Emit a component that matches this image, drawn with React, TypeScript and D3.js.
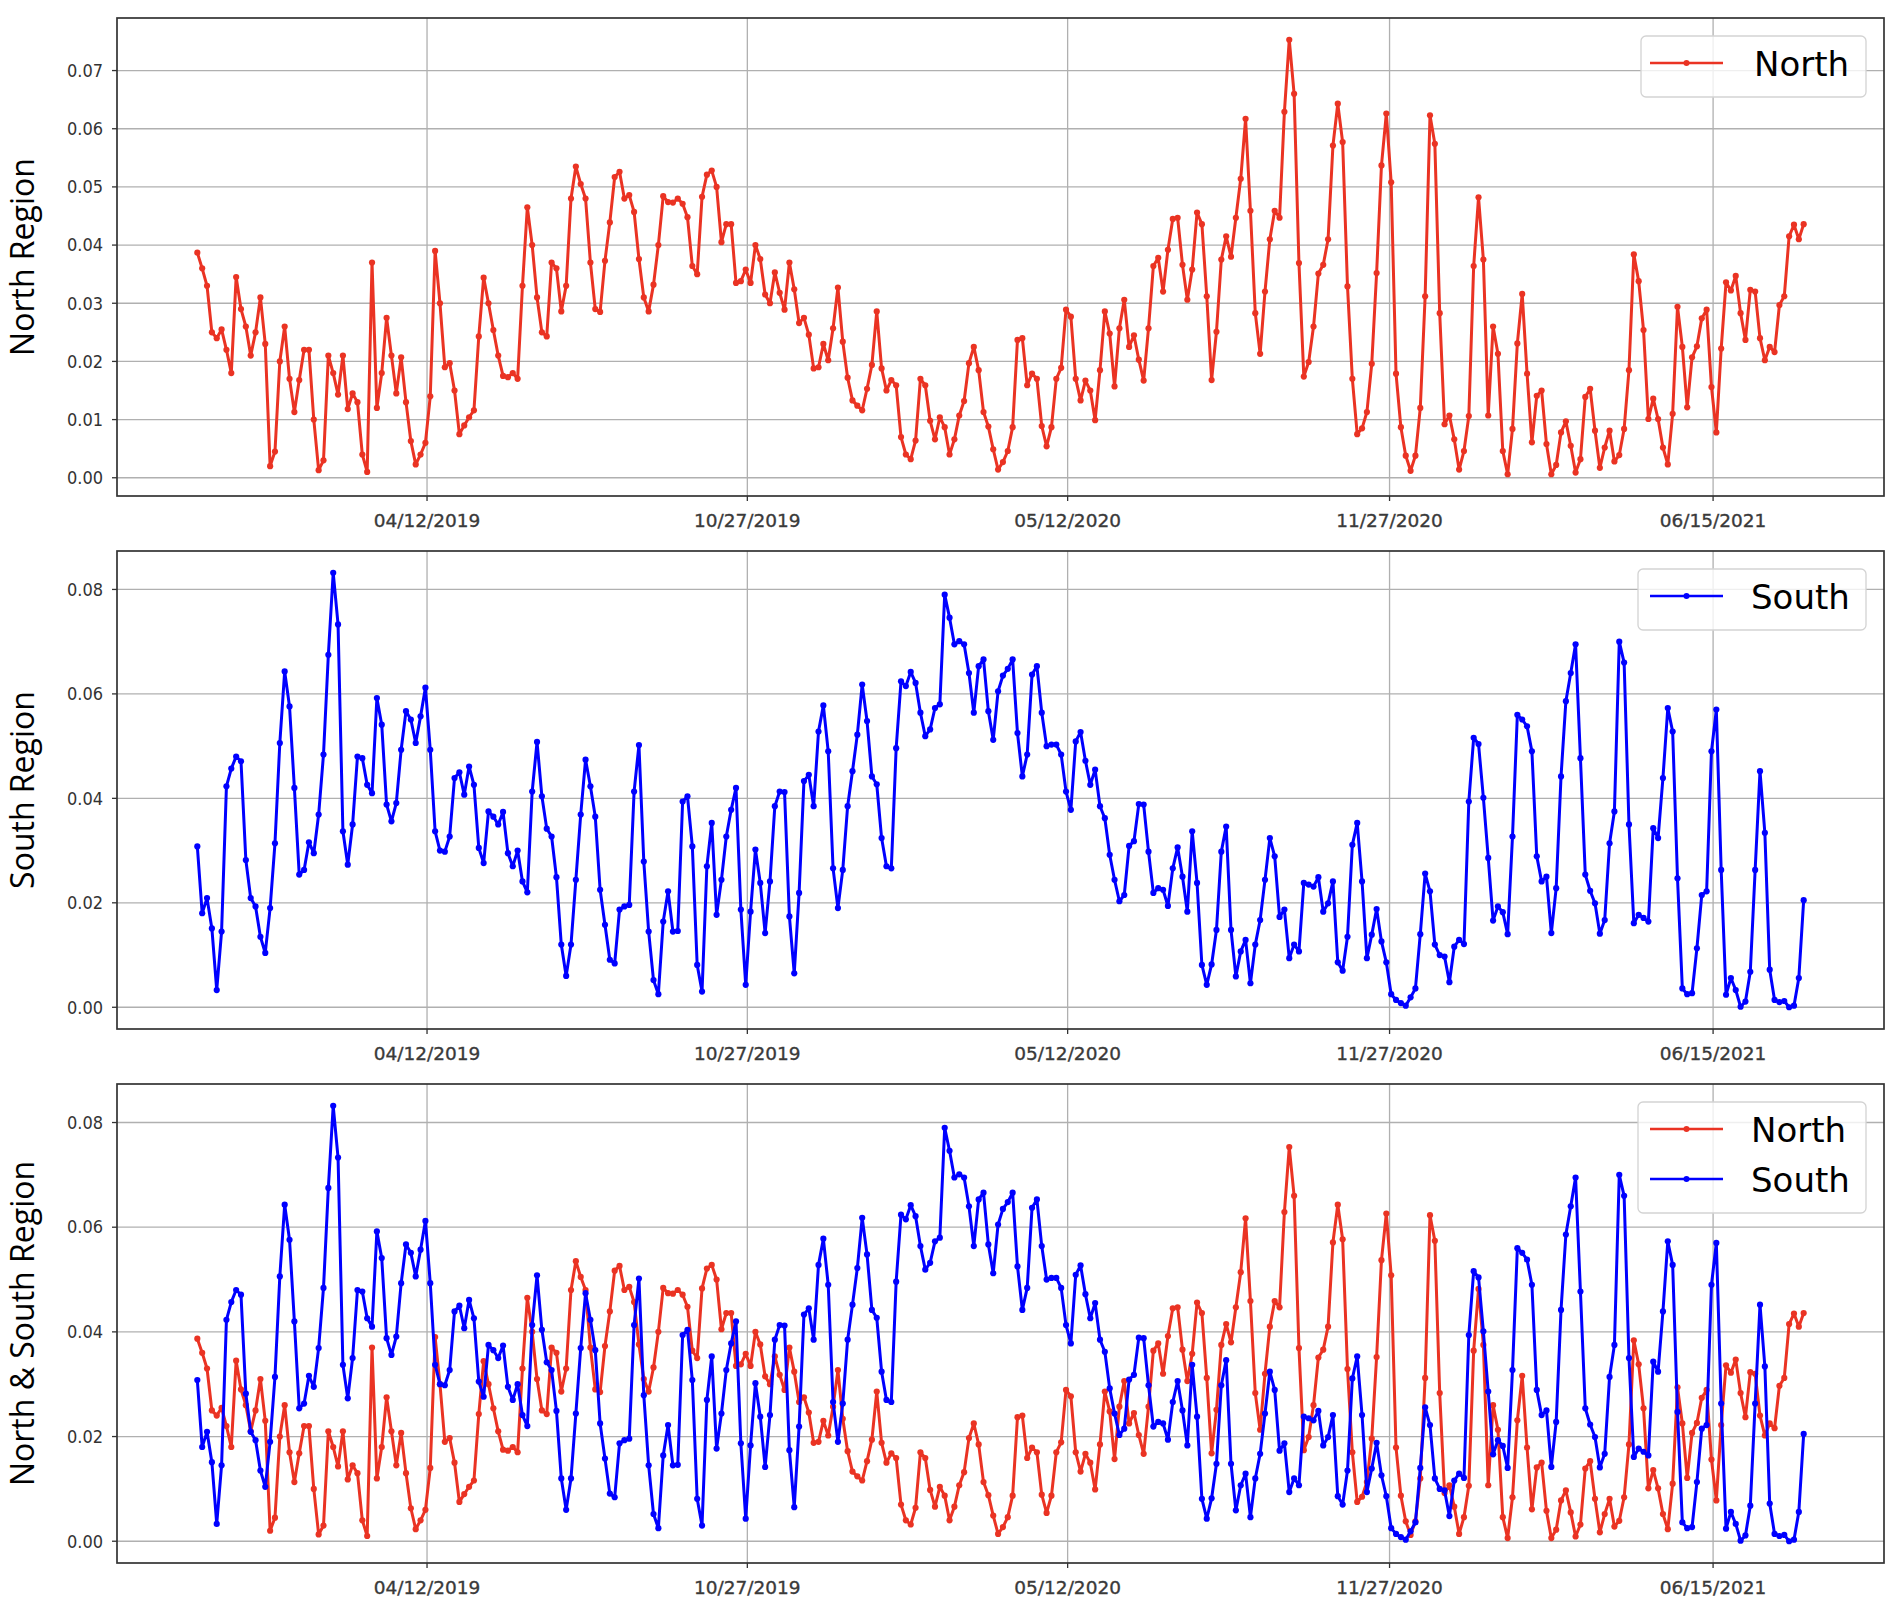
import * as d3 from "d3";

// readings taken every 3 days from the first sample
const startLabel = "11/21/2018";
const stepDays = 3;

const northValues = [
     0.0387, 0.036, 0.033, 0.025, 0.024, 0.0255, 0.022, 0.018, 0.0345, 0.029,
     0.026, 0.021, 0.025, 0.031, 0.023, 0.002, 0.0045, 0.02, 0.026, 0.017,
     0.0113, 0.0168, 0.022, 0.022, 0.01, 0.0013, 0.003, 0.021, 0.018, 0.0143,
     0.021, 0.0118, 0.0145, 0.013, 0.004, 0.001, 0.037, 0.012, 0.018, 0.0275,
     0.021, 0.0145, 0.0207, 0.013, 0.0063, 0.0023, 0.004, 0.006, 0.014, 0.039,
     0.03, 0.019, 0.0197, 0.015, 0.0075, 0.009, 0.0104, 0.0116, 0.0243, 0.0344,
     0.03, 0.0254, 0.021, 0.0175, 0.0173, 0.018, 0.017, 0.033, 0.0465, 0.04,
     0.031, 0.025, 0.0243, 0.037, 0.036, 0.0286, 0.033, 0.048, 0.0535, 0.0505,
     0.048, 0.037, 0.029, 0.0285, 0.0373, 0.0439, 0.0517, 0.0526, 0.048, 0.0486,
     0.0457, 0.0376, 0.031, 0.0286, 0.0332, 0.04, 0.0484, 0.0474, 0.0473, 0.048,
     0.0471, 0.0448, 0.0364, 0.035, 0.0483, 0.0521, 0.0528, 0.05, 0.0405, 0.0436,
     0.0436, 0.0335, 0.0338, 0.0358, 0.0335, 0.04, 0.0376, 0.0315, 0.03, 0.0353,
     0.0318, 0.0289, 0.037, 0.0324, 0.0266, 0.0275, 0.0246, 0.0188, 0.019, 0.023,
     0.0202, 0.0257, 0.0327, 0.0234, 0.0172, 0.0133, 0.0124, 0.0116, 0.0153, 0.0194,
     0.0286, 0.0188, 0.015, 0.0168, 0.0159, 0.007, 0.004, 0.0032, 0.0064, 0.017,
     0.0159, 0.0098, 0.0066, 0.0104, 0.0087, 0.004, 0.0066, 0.0107, 0.0132, 0.0197,
     0.0225, 0.0185, 0.0113, 0.0088, 0.0049, 0.0014, 0.0027, 0.0046, 0.0087, 0.0237,
     0.024, 0.0159, 0.0179, 0.017, 0.0089, 0.0054, 0.0087, 0.017, 0.0189, 0.0289,
     0.0277, 0.017, 0.0133, 0.0167, 0.015, 0.0099, 0.0185, 0.0286, 0.0248, 0.0157,
     0.0257, 0.0306, 0.0225, 0.0245, 0.0203, 0.0167, 0.0257, 0.0364, 0.0378, 0.032,
     0.0392, 0.0445, 0.0447, 0.0366, 0.0306, 0.0358, 0.0456, 0.0436, 0.0312, 0.0168,
     0.0251, 0.0375, 0.0415, 0.038, 0.0447, 0.0514, 0.0617, 0.0459, 0.0283, 0.0213,
     0.032, 0.041, 0.0459, 0.0447, 0.0629, 0.0753, 0.066, 0.0369, 0.0174, 0.0199,
     0.026, 0.0351, 0.0366, 0.041, 0.0571, 0.0643, 0.0577, 0.0329, 0.017, 0.0075,
     0.0085, 0.0113, 0.0196, 0.0352, 0.0537, 0.0626, 0.0508, 0.0179, 0.0087, 0.0038,
     0.0012, 0.0038, 0.012, 0.0312, 0.0623, 0.0574, 0.0283, 0.0092, 0.0107, 0.0066,
     0.0014, 0.0046, 0.0106, 0.0364, 0.0482, 0.0375, 0.0107, 0.026, 0.0213, 0.0046,
     0.0006, 0.0084, 0.0231, 0.0316, 0.0179, 0.0061, 0.0141, 0.015, 0.0058, 0.0006,
     0.0022, 0.0078, 0.0097, 0.0055, 0.0009, 0.0032, 0.0139, 0.0153, 0.0081, 0.0017,
     0.0052, 0.0081, 0.0028, 0.0039, 0.0084, 0.0185, 0.0384, 0.0338, 0.0254, 0.0101,
     0.0136, 0.0101, 0.0052, 0.0023, 0.011, 0.0294, 0.0225, 0.0121, 0.0207, 0.0226,
     0.0274, 0.0289, 0.0156, 0.0078, 0.0222, 0.0336, 0.0322, 0.0347, 0.0283, 0.0237,
     0.0323, 0.032, 0.024, 0.0202, 0.0225, 0.0216, 0.0297, 0.0312, 0.0415, 0.0435,
     0.041, 0.0436,
];

const southValues = [
     0.0308, 0.018, 0.0209, 0.0151, 0.0033, 0.0145, 0.0423, 0.0457, 0.048, 0.0471,
     0.0282, 0.0209, 0.0193, 0.0135, 0.0104, 0.019, 0.0314, 0.0506, 0.0643, 0.0576,
     0.042, 0.0254, 0.0263, 0.0316, 0.0295, 0.0369, 0.0484, 0.0675, 0.0832, 0.0733,
     0.0337, 0.0273, 0.035, 0.048, 0.0477, 0.0426, 0.041, 0.0592, 0.0541, 0.0388,
     0.0356, 0.0391, 0.0493, 0.0567, 0.0551, 0.0506, 0.0557, 0.0612, 0.0493, 0.0337,
     0.03, 0.0298, 0.0327, 0.0439, 0.045, 0.0407, 0.0461, 0.0426, 0.0305, 0.0276,
     0.0375, 0.0365, 0.035, 0.0374, 0.0295, 0.027, 0.03, 0.0241, 0.022, 0.0413,
     0.0508, 0.0404, 0.0342, 0.0327, 0.0249, 0.012, 0.006, 0.012, 0.0244, 0.0369,
     0.0474, 0.0423, 0.0365, 0.0225, 0.0158, 0.0091, 0.0084, 0.0187, 0.0193, 0.0196,
     0.0413, 0.0502, 0.0279, 0.0145, 0.0052, 0.0025, 0.0164, 0.0222, 0.0145, 0.0146,
     0.0394, 0.0404, 0.0308, 0.0081, 0.003, 0.027, 0.0353, 0.0177, 0.0244, 0.0327,
     0.0378, 0.042, 0.0187, 0.0043, 0.0183, 0.0302, 0.0238, 0.0142, 0.0241, 0.0385,
     0.0413, 0.0412, 0.0174, 0.0065, 0.0219, 0.0433, 0.0445, 0.0385, 0.0528, 0.0578,
     0.049, 0.0266, 0.019, 0.0263, 0.0385, 0.0452, 0.0522, 0.0618, 0.0548, 0.0442,
     0.0427, 0.0324, 0.027, 0.0266, 0.0496, 0.0624, 0.0615, 0.0642, 0.0621, 0.0564,
     0.0519, 0.0532, 0.0573, 0.058, 0.079, 0.0746, 0.0695, 0.0701, 0.0695, 0.064,
     0.0564, 0.0653, 0.0666, 0.0567, 0.0512, 0.0605, 0.0635, 0.0648, 0.0666, 0.0525,
     0.0442, 0.0484, 0.0637, 0.0653, 0.0564, 0.05, 0.0503, 0.0503, 0.0484, 0.0413,
     0.0378, 0.0509, 0.0527, 0.0472, 0.0426, 0.0455, 0.0385, 0.0362, 0.0292, 0.0244,
     0.0203, 0.0215, 0.0309, 0.0318, 0.0389, 0.0388, 0.0298, 0.0219, 0.0228, 0.0225,
     0.0194, 0.0266, 0.0306, 0.025, 0.0183, 0.0337, 0.0238, 0.0081, 0.0043, 0.0082,
     0.0148, 0.0298, 0.0346, 0.0148, 0.0059, 0.0107, 0.0129, 0.0046, 0.012, 0.0167,
     0.0244, 0.0324, 0.0289, 0.0173, 0.0187, 0.0094, 0.012, 0.0107, 0.0238, 0.0235,
     0.0231, 0.0249, 0.0183, 0.0199, 0.0241, 0.0086, 0.007, 0.0135, 0.0311, 0.0353,
     0.0241, 0.0094, 0.0139, 0.0188, 0.0126, 0.0086, 0.0025, 0.0014, 0.0008, 0.0003,
     0.0019, 0.0036, 0.014, 0.0256, 0.0222, 0.012, 0.01, 0.0097, 0.0048, 0.0116,
     0.0129, 0.0121, 0.0394, 0.0516, 0.0504, 0.0401, 0.0286, 0.0166, 0.0193, 0.0182,
     0.014, 0.0327, 0.056, 0.0551, 0.0538, 0.049, 0.0289, 0.0241, 0.025, 0.0142,
     0.0228, 0.0442, 0.0586, 0.064, 0.0695, 0.0477, 0.0254, 0.0223, 0.0199, 0.0141,
     0.0167, 0.0314, 0.0375, 0.07, 0.066, 0.035, 0.0161, 0.0177, 0.0171, 0.0164,
     0.0343, 0.0324, 0.0439, 0.0573, 0.0528, 0.0247, 0.0036, 0.0025, 0.0027, 0.0113,
     0.0215, 0.0222, 0.049, 0.057, 0.0263, 0.0024, 0.0056, 0.0033, 0.0001, 0.0011,
     0.0068, 0.0263, 0.0452, 0.0334, 0.0072, 0.0014, 0.001, 0.0012, 0.0, 0.0003,
     0.0056, 0.0205,
];

const tickLabels = ["04/12/2019", "10/27/2019", "05/12/2020", "11/27/2020", "06/15/2021"];
const northTicks = [0, 0.01, 0.02, 0.03, 0.04, 0.05, 0.06, 0.07];
const southTicks = [0, 0.02, 0.04, 0.06, 0.08];

const parseDate = d3.utcParse("%m/%d/%Y");
const start = parseDate(startLabel) as Date;
const dates = northValues.map((_, i) => d3.utcDay.offset(start, i * stepDays));

const RED = "#ea3323";
const BLUE = "#0000ff";
const W = 1892;
const H = 1614;
const LEFT = 117;
const RIGHT = 1884;

// matplotlib style 5% margins
const span = dates[dates.length - 1].getTime() - dates[0].getTime();
const xScale = d3.scaleUtc()
     .domain([new Date(dates[0].getTime() - span * 0.05), new Date(dates[dates.length - 1].getTime() + span * 0.05)])
     .range([LEFT, RIGHT]);

type Series = { name: string, values: number[], color: string };

type PanelProps = {
     top: number,
     bottom: number,
     series: Series[],
     yTicks: number[],
     label: string,
     legendLeft: number,
};

const Panel = ({ top, bottom, series, yTicks, label, legendLeft }: PanelProps) => {
     const all = series.flatMap(s => s.values);
     const lo = d3.min(all) as number;
     const hi = d3.max(all) as number;
     const pad = (hi - lo) * 0.05;
     const yScale = d3.scaleLinear().domain([lo - pad, hi + pad]).range([bottom, top]);

     const line = d3.line<number>()
          .x((_, i) => xScale(dates[i]))
          .y(v => yScale(v));

     const fmt = d3.format(".2f");
     const legendTop = top + 18;
     const legendH = 61 + (series.length - 1) * 50;

     return (
          <g>
               {/* grid */}
               {yTicks.map(t => (
                    <line key={"gy" + t} x1={LEFT} x2={RIGHT} y1={yScale(t)} y2={yScale(t)} stroke="#b0b0b0" strokeWidth={1.3} />
               ))}
               {tickLabels.map(l => {
                    const x = xScale(parseDate(l) as Date);
                    return <line key={"gx" + l} x1={x} x2={x} y1={top} y2={bottom} stroke="#b0b0b0" strokeWidth={1.3} />;
               })}

               {series.map(s => (
                    <g key={s.name}>
                         <path d={line(s.values) || ""} fill="none" stroke={s.color} strokeWidth={3} strokeLinejoin="round" />
                         {s.values.map((v, i) => (
                              <circle key={i} cx={xScale(dates[i])} cy={yScale(v)} r={3.1} fill={s.color} />
                         ))}
                    </g>
               ))}

               <rect x={LEFT} y={top} width={RIGHT - LEFT} height={bottom - top} fill="none" stroke="#333" strokeWidth={1.7} />

               {/* y axis */}
               {yTicks.map(t => (
                    <g key={"ty" + t}>
                         <line x1={LEFT - 5} x2={LEFT} y1={yScale(t)} y2={yScale(t)} stroke="#333" strokeWidth={1.3} />
                         <text x={LEFT - 14} y={yScale(t)} dy="0.35em" textAnchor="end" fontSize={18}
                              fontFamily="'DejaVu Sans Condensed', 'DejaVu Sans', sans-serif" fill="#333">{fmt(t)}</text>
                    </g>
               ))}

               {/* x axis */}
               {tickLabels.map(l => {
                    const x = xScale(parseDate(l) as Date);
                    return (
                         <g key={"tx" + l}>
                              <line x1={x} x2={x} y1={bottom} y2={bottom + 5} stroke="#333" strokeWidth={1.3} />
                              <text x={x} y={bottom + 31} textAnchor="middle" fontSize={18.5}
                                   fontFamily="'DejaVu Sans', sans-serif" fill="#3a3a3a" stroke="#3a3a3a" strokeWidth={0.35}>{l}</text>
                         </g>
                    );
               })}

               <text transform={`translate(34, ${(top + bottom) / 2}) rotate(-90)`} textAnchor="middle"
                    fontSize={32} fontFamily="'Open Sans', 'Noto Sans', sans-serif" fill="#000">{label}</text>

               {/* legend */}
               <rect x={legendLeft} y={legendTop} width={1866 - legendLeft} height={legendH} rx={5}
                    fill="#fff" fillOpacity={0.8} stroke="#d3d3d3" strokeWidth={1.3} />
               {series.map((s, k) => {
                    const cy = legendTop + 27 + k * 50;
                    return (
                         <g key={"lg" + s.name}>
                              <line x1={1650} x2={1723} y1={cy} y2={cy} stroke={s.color} strokeWidth={2.6} />
                              <circle cx={1686.5} cy={cy} r={3} fill={s.color} />
                              <text x={legendLeft + 113} y={cy + 13} fontSize={34} fontFamily="'DejaVu Sans', sans-serif" fill="#000">{s.name}</text>
                         </g>
                    );
               })}
          </g>
     );
};

const north: Series = { name: "North", values: northValues, color: RED };
const south: Series = { name: "South", values: southValues, color: BLUE };

export default function App() {
     return (
          <div style={{ position: "absolute", left: 0, top: 0 }}>
               <svg width={W} height={H} style={{ display: "block", background: "#fff" }}>
                    <rect width={W} height={H} fill="#fff" />
                    <Panel top={18} bottom={496} series={[north]} yTicks={northTicks} label="North Region" legendLeft={1641} />
                    <Panel top={551} bottom={1029} series={[south]} yTicks={southTicks} label="South Region" legendLeft={1638} />
                    <Panel top={1084} bottom={1563} series={[north, south]} yTicks={southTicks} label="North & South Region" legendLeft={1638} />
               </svg>
          </div>
     );
}
